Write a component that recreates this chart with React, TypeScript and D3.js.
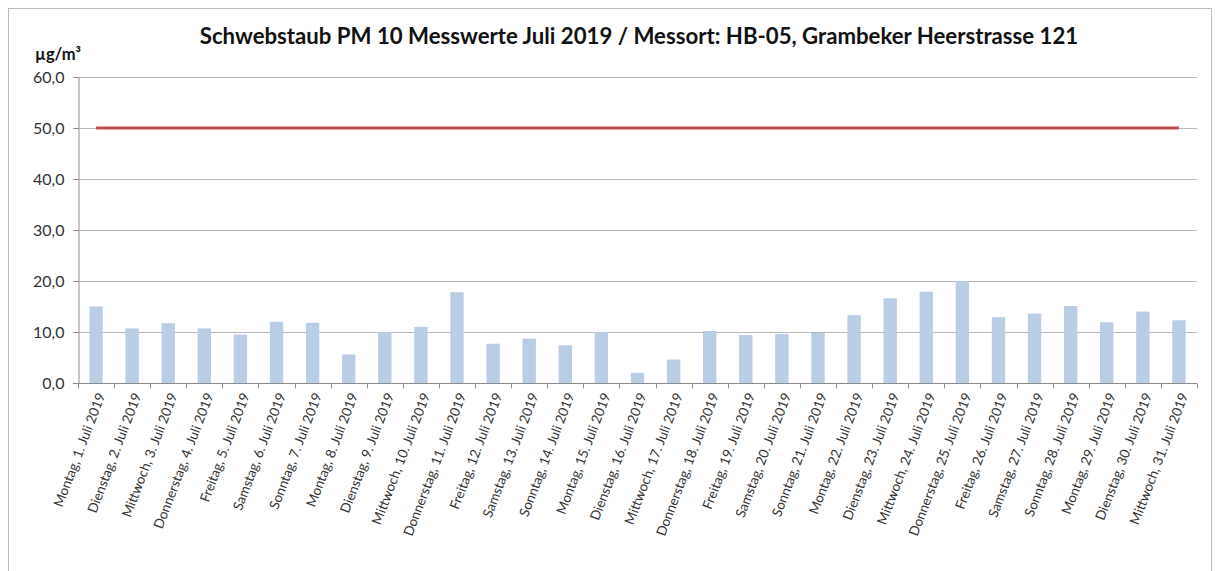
import React, { useEffect, useRef } from "react";
import * as d3 from "d3";

const weekdays = ["Montag", "Dienstag", "Mittwoch", "Donnerstag", "Freitag", "Samstag", "Sonntag"];
const days = d3.range(1, 32);
const categories = days.map((d, i) => `${weekdays[i % 7]}, ${d}. Juli 2019`);
const pm10Values = [
  15.0, 10.7, 11.7, 10.7, 9.5, 12.0, 11.8, 5.6, 10.0, 11.0, 17.8, 7.7, 8.7, 7.4, 10.0,
  2.0, 4.6, 10.2, 9.4, 9.6, 9.8, 13.3, 16.6, 17.9, 20.0, 12.9, 13.6, 15.1, 11.9, 14.0, 12.3,
];
const limitValue = 50;
const yTicks = [0, 10, 20, 30, 40, 50, 60];
const title = "Schwebstaub PM 10 Messwerte Juli 2019 / Messort: HB-05, Grambeker Heerstrasse 121";
const unitLabel = "µg/m³";

const W = 1215;
const H = 571;
const M = { left: 78, right: 1197, top: 77, bottom: 383 };
const FONT = "Lato, 'Open Sans', sans-serif";

export default function App() {
  const ref = useRef<SVGSVGElement>(null);

  useEffect(() => {
    const svg = d3.select(ref.current);
    svg.selectAll("*").remove();

    const x = d3.scaleBand<string>().domain(categories).range([M.left, M.right]).paddingInner(0.63).paddingOuter(0.315);
    const xOuter = d3.scaleBand<string>().domain(categories).range([M.left, M.right]);
    const y = d3.scaleLinear().domain([0, 60]).range([M.bottom, M.top]);

    svg.append("rect").attr("x", 8.5).attr("y", 8.5).attr("width", 1203).attr("height", 580)
      .attr("fill", "white").attr("stroke", "#bdbdbd").attr("stroke-width", 1);

    // gridlines
    svg.append("g").selectAll("line").data(yTicks.filter((t) => t > 0)).join("line")
      .attr("x1", M.left - 5).attr("x2", M.right)
      .attr("y1", (d) => Math.round(y(d)) + 0.5).attr("y2", (d) => Math.round(y(d)) + 0.5)
      .attr("stroke", "#b8b8b8").attr("stroke-width", 1.2);

    // bars
    svg.append("g").selectAll("rect").data(pm10Values).join("rect")
      .attr("x", (_, i) => x(categories[i])!)
      .attr("width", x.bandwidth())
      .attr("y", (d) => y(d))
      .attr("height", (d) => y(0) - y(d))
      .attr("fill", "#b9cde5");

    // limit line
    const line = d3.line<string>()
      .x((c) => xOuter(c)! + xOuter.bandwidth() / 2)
      .y(() => y(limitValue));
    svg.append("path").datum([categories[0], categories[categories.length - 1]])
      .attr("d", line).attr("stroke", "#c0504d").attr("stroke-width", 3).attr("fill", "none");

    // y axis
    const yAxis = d3.axisLeft(y).tickValues(yTicks).tickSize(5).tickPadding(9)
      .tickFormat((d) => d3.format(".1f")(d as number).replace(".", ","));
    const gy = svg.append("g").attr("transform", `translate(${M.left + 0.5},0)`).call(yAxis);
    gy.select(".domain").attr("stroke", "#8c8c8c");
    gy.selectAll(".tick line").attr("stroke", "#8c8c8c");
    gy.selectAll("text").attr("font-family", FONT).attr("font-size", 16).attr("fill", "#333");

    // x axis
    const gx = svg.append("g").attr("transform", `translate(0,${Math.round(y(0)) + 0.5})`);
    gx.append("line").attr("x1", M.left - 5).attr("x2", M.right).attr("stroke", "#8c8c8c");
    const bounds = categories.map((c) => xOuter(c)!).concat([M.right]);
    gx.selectAll("line.t").data(bounds).join("line").attr("class", "t")
      .attr("x1", (d) => Math.round(d) + 0.5).attr("x2", (d) => Math.round(d) + 0.5)
      .attr("y1", 0).attr("y2", 5).attr("stroke", "#8c8c8c");
    gx.selectAll("text").data(categories).join("text")
      .attr("transform", (c) => `translate(${xOuter(c)! + xOuter.bandwidth() / 2 + 5},10) rotate(-69)`)
      .attr("text-anchor", "end")
      .attr("dy", "0.35em")
      .attr("font-family", FONT).attr("font-size", 13.5).attr("fill", "#333")
      .text((c) => c);

    svg.append("text").attr("x", 639).attr("y", 44).attr("text-anchor", "middle")
      .attr("font-family", FONT).attr("font-weight", "bold").attr("font-size", 22.2).attr("fill", "#111")
      .text(title);
    svg.append("text").attr("x", 35).attr("y", 60)
      .attr("font-family", FONT).attr("font-weight", "bold").attr("font-size", 16.5).attr("fill", "#111")
      .text(unitLabel);
  }, []);

  return (
    <svg ref={ref} width={W} height={H} style={{ position: "absolute", left: 0, top: 0, background: "white" }} />
  );
}
